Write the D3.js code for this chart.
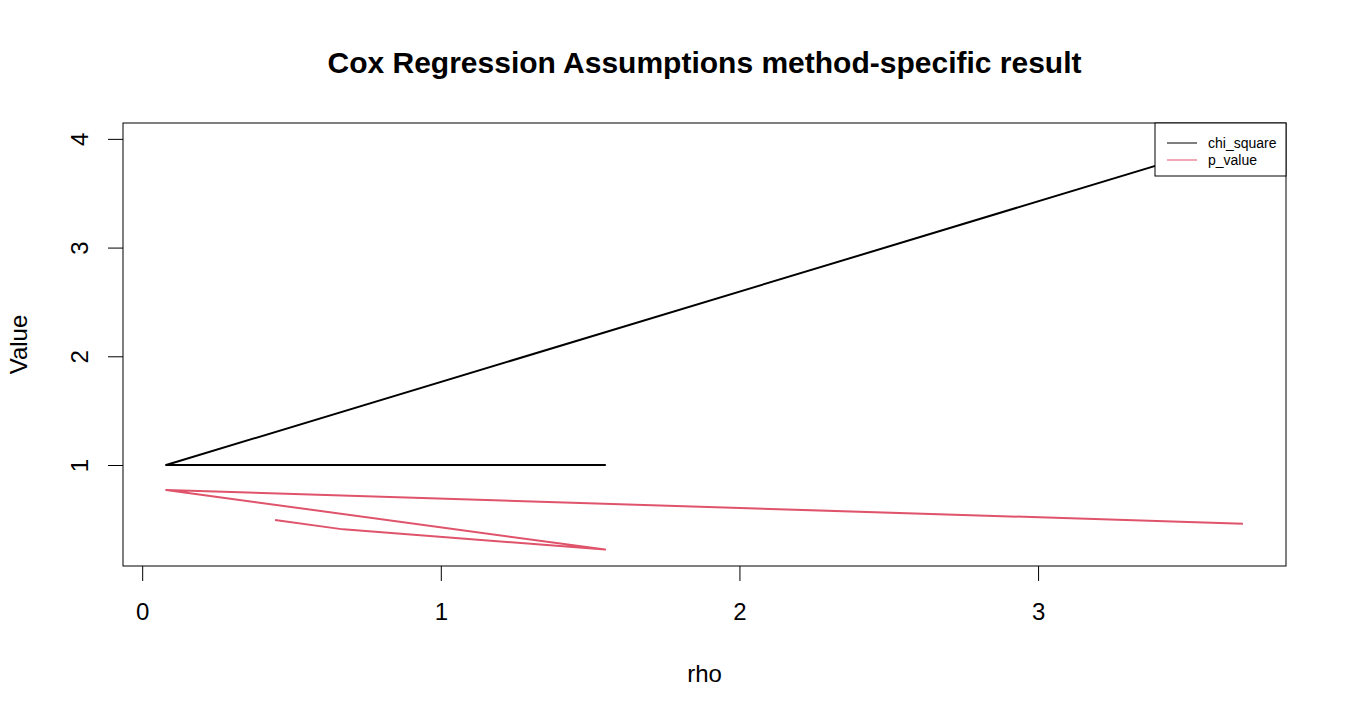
<!DOCTYPE html>
<html>
<head>
<meta charset="utf-8">
<script src="https://cdn.jsdelivr.net/npm/d3@7"></script>
<style>
  body { margin: 0; background: #fff; }
  svg text { font-family: "Liberation Sans", Arial, sans-serif; fill: #000; }
</style>
</head>
<body>
<svg id="chart" width="1350" height="720"></svg>
<script>
// values, in drawing order
const rho = [0.445, 0.673, 1.55, 0.08, 3.686];
const chiSquare = [1, 1, 1, 1, 3.995];
const pValue = [0.494, 0.408, 0.222, 0.77, 0.46];
const seriesNames = ['chi_square', 'p_value'];
const seriesColors = ['#000000', '#DF536B'];
const xTicks = [0, 1, 2, 3];
const yTicks = [1, 2, 3, 4];

const margin = {top: 123, right: 64, bottom: 154, left: 123};
const W = 1350, H = 720;
const width = W - margin.left - margin.right;
const height = H - margin.top - margin.bottom;

const svg = d3.select('#chart');
const g = svg.append('g').attr('transform', `translate(${margin.left},${margin.top})`);

// R-style 4% padding on both axes
const pad = (ext) => { const r = ext[1] - ext[0]; return [ext[0] - 0.04 * r, ext[1] + 0.04 * r]; };
const allY = chiSquare.concat(pValue);
const x = d3.scaleLinear().domain(pad(d3.extent(rho))).range([0, width]);
const y = d3.scaleLinear().domain(pad(d3.extent(allY))).range([height, 0]);

const line = d3.line().x(d => x(d[0])).y(d => y(d[1]));
const series = [chiSquare, pValue].map(vals => rho.map((r, i) => [r, vals[i]]));

series.forEach((s, i) => {
  g.append('path').datum(s).attr('d', line)
    .attr('fill', 'none').attr('stroke', seriesColors[i]).attr('stroke-width', 2)
    .attr('stroke-linejoin', 'round');
});

// axes
const xAxis = g.append('g').attr('transform', `translate(0,${height})`)
  .call(d3.axisBottom(x).tickValues(xTicks).tickSize(15).tickFormat(d3.format('d')));
const yAxis = g.append('g')
  .call(d3.axisLeft(y).tickValues(yTicks).tickSize(15).tickFormat(d3.format('d')));
[xAxis, yAxis].forEach(a => {
  a.select('.domain').remove();
  a.selectAll('line').attr('stroke', '#000');
  a.selectAll('text').style('font-size', '24px').attr('fill', '#000');
});
xAxis.selectAll('text').attr('y', 46).attr('dy', '0.35em');
yAxis.selectAll('text')
  .attr('x', null).attr('y', 0).attr('dy', '0.35em')
  .attr('text-anchor', 'middle')
  .attr('transform', 'translate(-43,0) rotate(-90)');

// box
g.append('rect').attr('width', width).attr('height', height)
  .attr('fill', 'none').attr('stroke', '#000').attr('stroke-width', 1);

// legend (drawn over the lines, top right)
const lg = g.append('g').attr('transform', `translate(${width - 131},0)`);
lg.append('rect').attr('width', 131).attr('height', 53)
  .attr('fill', '#fff').attr('stroke', '#000');
seriesNames.forEach((n, i) => {
  const yy = 20 + i * 17;
  lg.append('line').attr('x1', 12).attr('x2', 42).attr('y1', yy).attr('y2', yy)
    .attr('stroke', seriesColors[i]).attr('stroke-width', 1);
  lg.append('text').attr('x', 53).attr('y', yy).attr('dy', '0.35em')
    .style('font-size', '14px').text(n);
});

// titles
svg.append('text').attr('x', margin.left + width / 2).attr('y', 73)
  .attr('text-anchor', 'middle').style('font-size', '30px').style('font-weight', 'bold')
  .text('Cox Regression Assumptions method-specific result');
svg.append('text').attr('x', margin.left + width / 2).attr('y', 682)
  .attr('text-anchor', 'middle').style('font-size', '24px').text('rho');
svg.append('text').attr('transform', `translate(27,${margin.top + height / 2}) rotate(-90)`)
  .attr('text-anchor', 'middle').style('font-size', '24px').text('Value');
</script>
</body>
</html>
